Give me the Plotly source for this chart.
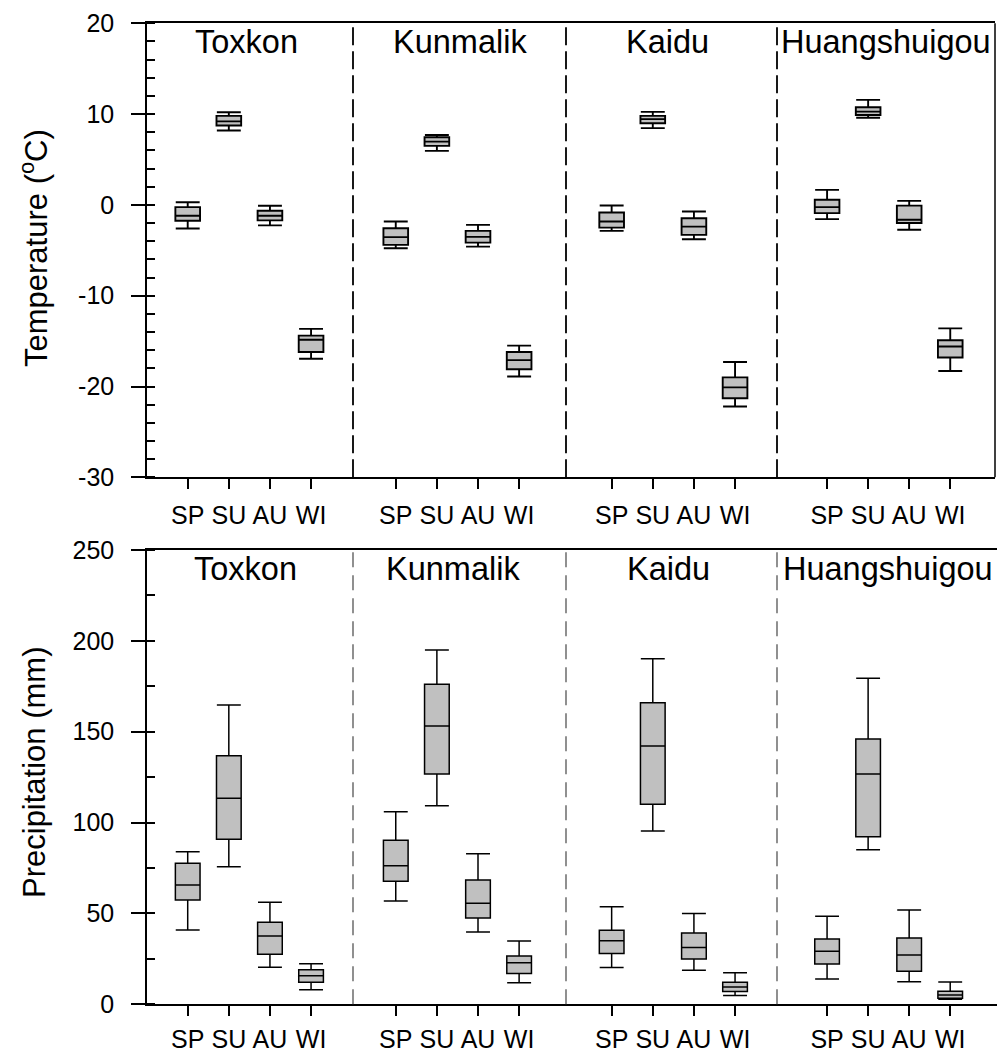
import plotly.graph_objects as go

# ---- data -------------------------------------------------------------
STATIONS = ["Toxkon", "Kunmalik", "Kaidu", "Huangshuigou"]
SEASONS = ["SP", "SU", "AU", "WI"]

# Temperature (°C) box statistics, one row per station, columns = seasons
TEMP_LOW = [[-2.6, 8.2, -2.25, -16.95],
            [-4.77, 5.95, -4.6, -18.9],
            [-2.86, 8.45, -3.78, -22.2],
            [-1.57, 9.6, -2.74, -18.3]]
TEMP_Q1 = [[-1.75, 8.75, -1.7, -16.2],
           [-4.4, 6.5, -4.15, -18.1],
           [-2.5, 9.0, -3.3, -21.3],
           [-0.91, 9.9, -2.0, -16.8]]
TEMP_MED = [[-1.2, 9.2, -1.2, -14.85],
            [-3.55, 6.97, -3.52, -17.1],
            [-1.83, 9.45, -2.39, -20.1],
            [-0.25, 10.27, -1.64, -15.6]]
TEMP_Q3 = [[-0.25, 9.8, -0.65, -14.4],
           [-2.57, 7.45, -2.86, -16.2],
           [-0.84, 9.8, -1.47, -19.0],
           [0.56, 10.76, -0.08, -14.9]]
TEMP_HIGH = [[0.3, 10.2, -0.1, -13.65],
             [-1.83, 7.7, -2.2, -15.5],
             [-0.07, 10.25, -0.73, -17.3],
             [1.65, 11.57, 0.44, -13.6]]

# Precipitation (mm) box statistics
PREC_LOW = [[40.9, 75.7, 20.4, 8.0],
            [56.9, 109.3, 39.8, 11.9],
            [20.2, 95.4, 18.7, 4.9],
            [13.9, 85.1, 12.4, 2.8]]
PREC_Q1 = [[57.4, 90.8, 27.5, 12.1],
           [67.7, 126.7, 47.5, 17.0],
           [27.9, 110.1, 24.9, 7.1],
           [22.2, 92.2, 18.2, 3.3]]
PREC_MED = [[65.7, 113.4, 37.6, 15.7],
            [76.3, 153.2, 55.6, 22.9],
            [35.0, 142.2, 31.2, 9.5],
            [29.2, 126.7, 27.1, 5.1]]
PREC_Q3 = [[77.6, 136.8, 45.1, 19.0],
           [90.3, 176.1, 68.4, 26.6],
           [40.7, 166.0, 39.2, 12.1],
           [35.9, 146.0, 36.5, 7.2]]
PREC_HIGH = [[84.0, 164.7, 56.1, 22.3],
             [106.0, 195.0, 82.9, 34.8],
             [53.7, 190.2, 49.9, 17.4],
             [48.4, 179.4, 51.9, 12.3]]

TEMP_TICKS = [-30, -20, -10, 0, 10, 20]
PREC_TICKS = [0, 50, 100, 150, 200, 250]

# ---- layout geometry (pixels in a 997 x 1054 page) ---------------------
W, H = 997, 1054
FONT = "Liberation Sans, Arial, sans-serif"


def fx(px):
    return px / W


def fy(py):
    return 1 - py / H


COL_EDGES = [147, 353, 566, 777, 995]
X_RANGES = [[-0.99, 4.02], [-1.04, 4.14], [-1.11, 4.02], [-1.22, 4.09]]
ROWS = [
    dict(top=23.3, bottom=477.3, yr=[-30, 20], ticks=TEMP_TICKS, minor=2,
         stats=(TEMP_LOW, TEMP_Q1, TEMP_MED, TEMP_Q3, TEMP_HIGH), lw=1.9,
         title="Temperature (<sup>o</sup>C)", title_y=248, xstand=5,
         station_y=[41.5, 41.5, 41.5, 41.5], station_x=[246, 460, 667, 886],
         sep_color="black", sep_dash="18px,6px", sep_w=1.8),
    dict(top=550, bottom=1004.3, yr=[0, 250], ticks=PREC_TICKS, minor=25,
         stats=(PREC_LOW, PREC_Q1, PREC_MED, PREC_Q3, PREC_HIGH), lw=1.5,
         title="Precipitation (mm)", title_y=772, xstand=2,
         station_y=[569, 569, 569, 569], station_x=[245, 453, 668, 888],
         sep_color="#555555", sep_dash="15px,8px", sep_w=1.3),
]

fig = go.Figure()
layout = dict(
    width=W, height=H, margin=dict(l=0, r=0, t=0, b=0, autoexpand=False),
    paper_bgcolor="white", plot_bgcolor="white", showlegend=False,
    font=dict(family=FONT, color="black"),
)
annotations = []
shapes = []

for r, row in enumerate(ROWS):
    low, q1, med, q3, high = row["stats"]
    ydom = [fy(row["bottom"]), fy(row["top"])]
    for c in range(4):
        idx = r * 4 + c + 1
        xname = "xaxis" if idx == 1 else f"xaxis{idx}"
        yname = "yaxis" if idx == 1 else f"yaxis{idx}"
        xref = "x" if idx == 1 else f"x{idx}"
        yref = "y" if idx == 1 else f"y{idx}"
        right = COL_EDGES[c + 1]
        xr = list(X_RANGES[c])
        if r == 1 and c == 3:
            right = 997
            xr[1] = 4.14
        fig.add_trace(go.Box(
            x=SEASONS, q1=q1[c], median=med[c], q3=q3[c],
            lowerfence=low[c], upperfence=high[c],
            width=0.6, whiskerwidth=0.97, boxpoints=False,
            fillcolor="#c0c0c0",
            line=dict(color="black", width=row["lw"]),
            xaxis=xref, yaxis=yref, hoverinfo="skip",
        ))
        layout[xname] = dict(
            domain=[fx(COL_EDGES[c]), fx(right)], anchor=yref,
            type="category", categoryorder="array", categoryarray=SEASONS,
            range=xr, showgrid=False, zeroline=False, automargin=False,
            showline=True, linecolor="black", linewidth=1.5, mirror=True,
            ticks="outside", ticklen=10, tickwidth=1.5, tickcolor="black",
            tickfont=dict(size=25, family=FONT, color="black"),
            ticklabelstandoff=row["xstand"],
        )
        if c == 0:
            layout[yname] = dict(
                domain=ydom, anchor=xref, range=row["yr"],
                showgrid=False, zeroline=False, automargin=False,
                showline=True, linecolor="black", linewidth=1.5,
                ticks="outside", ticklen=14, tickwidth=1.5, tickcolor="black",
                tickvals=row["ticks"], ticktext=[str(v) for v in row["ticks"]],
                tickfont=dict(size=25, family=FONT, color="black"),
                ticklabelstandoff=12,
                minor=dict(ticks="inside", ticklen=8, tickwidth=1.5,
                           tickcolor="black", dtick=row["minor"], showgrid=False),
            )
            first_y = yref
        else:
            layout[yname] = dict(
                domain=ydom, anchor=xref, range=row["yr"], matches=first_y,
                visible=False, showgrid=False, zeroline=False, automargin=False,
            )
        # station name inside each panel
        annotations.append(dict(
            text=STATIONS[c], xref="paper", yref="paper",
            x=fx(row["station_x"][c]), y=fy(row["station_y"][c]),
            xanchor="center", yanchor="middle", showarrow=False,
            font=dict(size=32.5, family=FONT, color="black"),
        ))
    # dashed separators between stations
    for c in range(1, 4):
        shapes.append(dict(
            type="line", xref="paper", yref="paper",
            x0=fx(COL_EDGES[c]), x1=fx(COL_EDGES[c]),
            y0=fy(row["bottom"]), y1=fy(row["top"]),
            line=dict(color=row["sep_color"], width=row["sep_w"], dash=row["sep_dash"]),
        ))
    # y-axis title
    annotations.append(dict(
        text=row["title"], xref="paper", yref="paper",
        x=fx(34), y=fy(row["title_y"]), xanchor="center", yanchor="middle",
        textangle=-90, showarrow=False,
        font=dict(size=31, family=FONT, color="black"),
    ))

# right border of the temperature panel
shapes.append(dict(
    type="line", xref="paper", yref="paper",
    x0=fx(995), x1=fx(995), y0=fy(ROWS[0]["bottom"]), y1=fy(ROWS[0]["top"]),
    line=dict(color="black", width=1.5),
))

layout["annotations"] = annotations
layout["shapes"] = shapes
fig.update_layout(**layout)
fig.write_html("out.html")
